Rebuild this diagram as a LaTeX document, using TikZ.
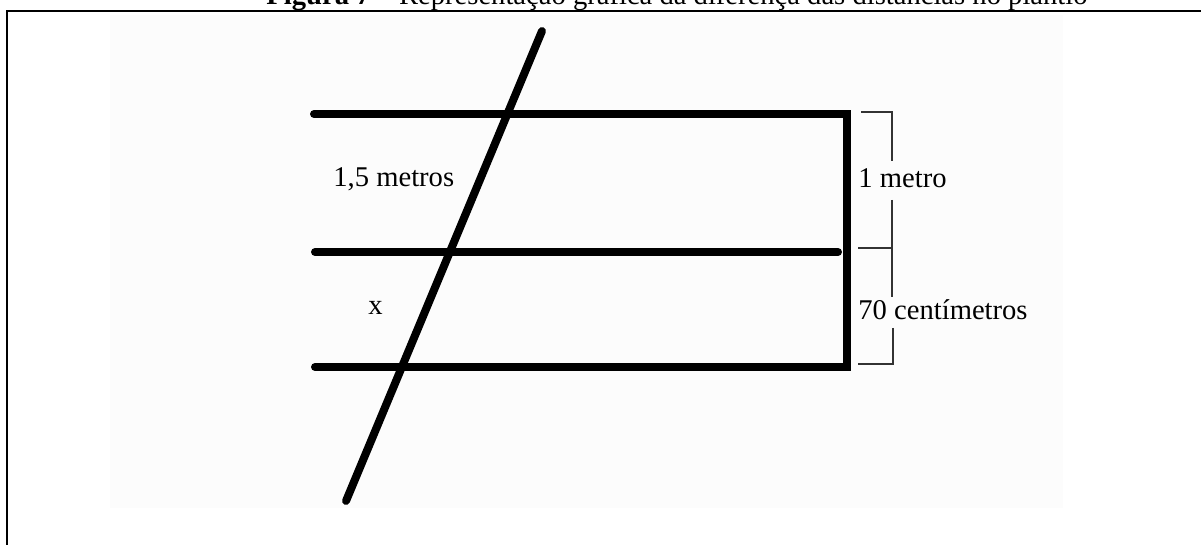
\documentclass[tikz,border=0pt]{standalone}
\usepackage{fontspec}
\setmainfont{Liberation Serif}
\begin{document}
\begin{tikzpicture}[x=0.5pt,y=-0.5pt,
  heavy/.style={line width=4pt,line cap=round},
  heavyjoin/.style={line width=4pt,line cap=round,line join=miter},
  bracketline/.style={line width=0.75pt,draw=black!80},
  frameline/.style={line width=1.2pt},
  lbl/.style={font=\fontsize{14.3}{17}\selectfont,inner sep=0pt,anchor=base west}]
\useasboundingbox (0,0) rectangle (1201,545);
\fill[black!1] (110,15) rectangle (1063,508);
% frame
\coordinate (frameBL) at (7,560);
\coordinate (frameTL) at (7,11);
\coordinate (frameTR) at (1215,11);
\draw[frameline] (frameBL) -- (frameTL) -- (frameTR);
% title (clipped at top)
\node[font=\fontsize{14.3}{17}\selectfont,inner sep=0pt,anchor=base] (title) at (677,5)
  {\textbf{Figura 7} – Representação gráfica da diferença das distâncias no plantio};
% thick lines
\coordinate (TL) at (314,114);
\coordinate (TR) at (847,114);
\coordinate (BR) at (847,367);
\coordinate (BL) at (315,367);
\coordinate (ML) at (315,252);
\coordinate (MR) at (838,252);
\coordinate (Stop) at (542,31);
\coordinate (Sbot) at (346,501);
\draw[heavyjoin] (TL) -- (TR) -- (BR) -- (BL);
\draw[heavy] (ML) -- (MR);
\draw[heavy] (Stop) -- (Sbot);
% bracket
\coordinate (b1a) at (861,112);
\coordinate (b1b) at (892,112);
\coordinate (b1c) at (892,161);
\coordinate (b2a) at (892,200);
\coordinate (b2b) at (892,297);
\coordinate (b3a) at (858,248);
\coordinate (b3b) at (892,248);
\coordinate (b4a) at (893,328);
\coordinate (b4b) at (893,364);
\coordinate (b4c) at (858,364);
\draw[bracketline] (b1a) -- (b1b) -- (b1c);
\draw[bracketline] (b2a) -- (b2b);
\draw[bracketline] (b3a) -- (b3b);
\draw[bracketline] (b4a) -- (b4b) -- (b4c);
% labels
\node[lbl] (l15) at (333,187) {1,5 metros};
\node[lbl] (lx) at (368,315) {x};
\node[lbl] (l1m) at (858,188) {1 metro};
\node[lbl] (l70) at (858,320) {70 centímetros};
\end{tikzpicture}
\end{document}
